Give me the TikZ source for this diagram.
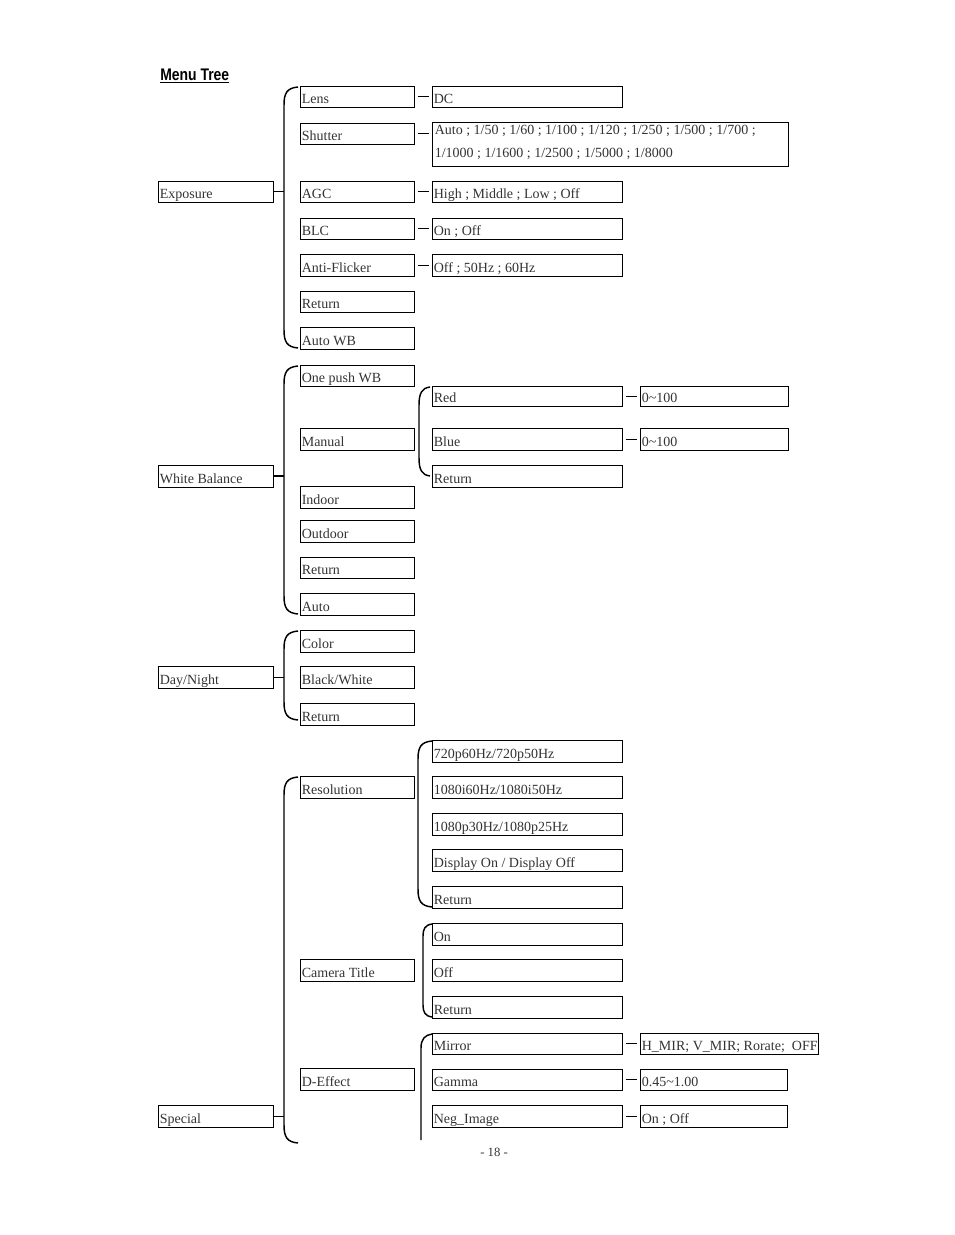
\documentclass[tikz,border=0pt]{standalone}
\usepackage{fontspec}
\setmainfont{Liberation Serif}
\newfontfamily\titlefont[FakeStretch=0.83]{Liberation Sans}
\definecolor{txt}{gray}{0.2}
\tikzset{
  box/.style={draw=black, line width=0.65pt, rectangle, inner sep=0pt},
  lbl/.style={anchor=base west, inner sep=0pt, text=txt, font=\fontsize{10.5}{17.25}\selectfont},
  brk/.style={draw=black, line width=1.1pt},
  link/.style={draw=black, line width=0.75pt},
  tick/.style={draw=black, line width=0.75pt, shorten <=3pt, shorten >=2.25pt}
}
\newcommand\mtbox[6]{%
  \node[box, minimum width={(#4-#2)*0.75pt}, minimum height={(#5-#3)*0.75pt}] (#1) at ({(#2+#4)/2},{(#3+#5)/2}) {};
  \node[lbl] (#1-t) at ([xshift=1.5pt,yshift=3.2pt]#1.south west) {#6};}
\newcommand\mtbrack[4]{%
  \draw[brk] (#4,#2) .. controls ({#1+3},{#2+1}) and (#1,{#2+6}) .. (#1,{#2+18}) -- (#1,{#3-18}) .. controls (#1,{#3-6}) and ({#1+3},{#3-1}) .. (#4,#3);}
\begin{document}
\begin{tikzpicture}[x=0.75pt,y=-0.75pt]
\useasboundingbox (0,0) rectangle (954,1235);
\node[anchor=base west, inner sep=0pt, font=\titlefont\bfseries\fontsize{12.6}{14}\selectfont] (title) at (160,80) {\underline{Menu Tree}};
% column A
\mtbox{expo}{158}{181}{273}{202}{Exposure}
\mtbox{wb}{158}{465}{273}{487}{White Balance}
\mtbox{dn}{158}{666}{273}{688}{Day/Night}
\mtbox{sp}{158}{1105}{273}{1127}{Special}
% column B
\mtbox{lens}{300}{86}{414}{107}{Lens}
\mtbox{shut}{300}{123}{414}{144}{Shutter}
\mtbox{agc}{300}{181}{414}{202}{AGC}
\mtbox{blc}{300}{218}{414}{239}{BLC}
\mtbox{af}{300}{254}{414}{276}{Anti-Flicker}
\mtbox{reta}{300}{291}{414}{312}{Return}
\mtbox{awb}{300}{327}{414}{349}{Auto WB}
\mtbox{opwb}{300}{365}{414}{386}{One push WB}
\mtbox{man}{300}{428}{414}{450}{Manual}
\mtbox{ind}{300}{486}{414}{508}{Indoor}
\mtbox{outd}{300}{520}{414}{542}{Outdoor}
\mtbox{retb}{300}{557}{414}{578}{Return}
\mtbox{auto}{300}{593}{414}{615}{Auto}
\mtbox{col}{300}{630}{414}{652}{Color}
\mtbox{bw}{300}{666}{414}{688}{Black/White}
\mtbox{retc}{300}{703}{414}{725}{Return}
\mtbox{res}{300}{776}{414}{798}{Resolution}
\mtbox{ct}{300}{959}{414}{981}{Camera Title}
\mtbox{de}{300}{1068}{414}{1090}{D-Effect}
% column C
\mtbox{dc}{432}{86}{622}{107}{DC}
\node[box, minimum width={356*0.75pt}, minimum height={44*0.75pt}] (shv) at (610,144) {};
\node[lbl, align=left] (shv-t) at (434.5,157) {Auto ; 1/50 ; 1/60 ; 1/100 ; 1/120 ; 1/250 ; 1/500 ; 1/700 ;\\1/1000 ; 1/1600 ; 1/2500 ; 1/5000 ; 1/8000};
\mtbox{agcv}{432}{181}{622}{202}{High ; Middle ; Low ; Off}
\mtbox{blcv}{432}{218}{622}{239}{On ; Off}
\mtbox{afv}{432}{254}{622}{276}{Off ; 50Hz ; 60Hz}
\mtbox{red}{432}{386}{622}{406}{Red}
\mtbox{blue}{432}{428}{622}{450}{Blue}
\mtbox{retd}{432}{465}{622}{487}{Return}
\mtbox{ra}{432}{740}{622}{762}{720p60Hz/720p50Hz}
\mtbox{rb}{432}{776}{622}{798}{1080i60Hz/1080i50Hz}
\mtbox{rc}{432}{813}{622}{835}{1080p30Hz/1080p25Hz}
\mtbox{rd}{432}{849}{622}{871}{Display On / Display Off}
\mtbox{re}{432}{886}{622}{908}{Return}
\mtbox{cton}{432}{923}{622}{945}{On}
\mtbox{ctoff}{432}{959}{622}{981}{Off}
\mtbox{ctret}{432}{996}{622}{1018}{Return}
\mtbox{mir}{432}{1033}{622}{1054}{Mirror}
\mtbox{gam}{432}{1069}{622}{1090}{Gamma}
\mtbox{neg}{432}{1105}{622}{1127}{Neg\_Image}
% column D
\mtbox{redv}{640}{386}{788}{406}{0\char`\~100}
\mtbox{bluev}{640}{428}{788}{450}{0\char`\~100}
\mtbox{mirv}{640}{1033}{818}{1054}{H\_MIR; V\_MIR; Rorate;\ \ OFF}
\mtbox{gamv}{640}{1069}{787}{1090}{0.45\char`\~1.00}
\mtbox{negv}{640}{1105}{787}{1127}{On ; Off}
% dashes
\draw[tick] (lens.east) -- (dc.west);
\draw[tick] (shut.east) -- (shut.east -| shv.west);
\draw[tick] (agc.east) -- (agcv.west);
\draw[tick] (blc.east) -- (blcv.west);
\draw[tick] (af.east) -- (afv.west);
\draw[tick] (red.east) -- (redv.west);
\draw[tick] (blue.east) -- (bluev.west);
\draw[tick] (mir.east) -- (mirv.west);
\draw[tick] (gam.east) -- (gamv.west);
\draw[tick] (neg.east) -- (negv.west);
% brackets
\coordinate (jE) at (284,191.5);
\coordinate (jW) at (284,476);
\coordinate (jD) at (284,677);
\coordinate (jS) at (284,1116);
\draw[link] (expo.east) -- (jE);
\draw[brk] (wb.east) -- (jW);
\draw[link] (dn.east) -- (jD);
\draw[link] (sp.east) -- (jS);
\mtbrack{284}{87}{348}{298}
\mtbrack{284}{366}{614}{298}
\mtbrack{419}{387}{476}{430}
\mtbrack{284}{631}{720}{298}
\mtbrack{284}{777}{1143}{298}
\mtbrack{418}{741}{907}{432}
\draw[brk] (432,924) .. controls (425,925) and (423,929) .. (423,936) -- (423,1005) .. controls (423,1012) and (425,1016) .. (432,1017);
\draw[brk] (432,1034) .. controls (425,1035) and (421,1039) .. (421,1048) -- (421,1140);
% page number
\node[anchor=base, inner sep=0pt, text=txt, font=\fontsize{9.5}{11}\selectfont] (pg) at (494,1156) {- 18 -};
\end{tikzpicture}
\end{document}
